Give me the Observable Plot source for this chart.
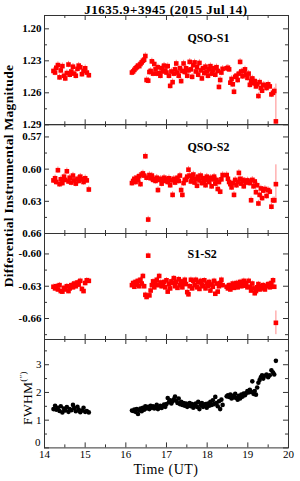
<!DOCTYPE html>
<html><head><meta charset="utf-8">
<script src="https://cdn.jsdelivr.net/npm/d3@7"></script>
<script src="https://cdn.jsdelivr.net/npm/@observablehq/plot@0.6"></script>
<style>
body{margin:0;background:#fff;}
#wrap{position:relative;width:300px;height:481px;overflow:hidden;font-family:"Liberation Serif",serif;color:#000;}
.lbl{position:absolute;white-space:nowrap;}
</style></head><body><div id="wrap"></div>
<script>
// ---- data ----
const time = [
 14.22,14.26,14.29,14.33,14.37,14.40,14.44,14.48,14.51,14.55,14.59,14.62,14.66,14.70,14.73,14.77,14.81,14.84,14.88,14.92,14.96,15.00,15.04,15.09,
 16.15,16.18,16.21,16.24,16.27,16.30,16.33,16.36,16.39,16.42,16.45,16.48,16.51,16.55,16.58,16.61,16.64,16.67,16.70,16.73,16.76,16.79,16.82,16.85,16.88,16.91,16.94,16.97,
 17.00,17.03,17.06,17.09,17.12,17.15,17.18,17.21,17.24,17.27,17.30,17.33,17.36,17.39,17.42,17.45,17.48,17.51,17.54,17.57,17.60,17.63,17.66,17.69,17.72,17.75,17.78,17.81,17.84,17.87,17.90,17.93,17.96,17.99,
 18.02,18.05,18.08,18.11,18.14,18.17,18.20,18.23,18.26,18.29,18.32,18.35,18.38,
 18.48,18.51,18.54,18.57,18.60,18.63,18.66,18.69,18.72,18.75,18.78,18.81,18.84,18.87,18.90,18.93,18.96,18.99,
 19.02,19.05,19.08,19.11,19.14,19.17,19.20,19.23,19.26,19.29,19.32,19.35,19.38,19.42,19.46,19.50,19.54,19.58,19.62,19.65,19.69
];
const qsoS1 = [
 1.2395,1.2410,1.2365,1.2340,1.2455,1.2390,1.2350,1.2440,1.2465,1.2415,1.2335,1.2430,1.2400,1.2355,1.2420,1.2440,1.2375,1.2345,1.2360,1.2425,1.2395,1.2370,1.2410,1.2435,
 1.2410,1.2400,1.2385,1.2370,1.2360,1.2345,1.2350,1.2330,1.2315,1.2300,1.2290,1.2255,1.2480,1.2486,1.2405,1.2395,1.2305,1.2420,1.2330,1.2380,1.2420,1.2360,1.2415,1.2440,1.2370,1.2400,1.2345,1.2390,
 1.2410,1.2350,1.2440,1.2535,1.2400,1.2500,1.2420,1.2380,1.2325,1.2410,1.2440,1.2370,1.2490,1.2395,1.2325,1.2405,1.2370,1.2440,1.2390,1.2310,1.2380,1.2450,1.2340,1.2315,1.2400,1.2360,1.2430,1.2320,1.2390,1.2465,1.2370,1.2415,1.2355,1.2400,
 1.2440,1.2380,1.2350,1.2420,1.2390,1.2370,1.2430,1.2360,1.2395,1.2545,1.2480,1.2410,1.2375,
 1.2370,1.2365,1.2380,1.2505,1.2470,1.2520,1.2590,1.2450,1.2440,1.2480,1.2420,1.2310,1.2400,1.2445,1.2395,1.2380,1.2430,1.2460,
 1.2420,1.2525,1.2490,1.2465,1.2510,1.2490,1.2540,1.2520,1.2630,1.2500,1.2555,1.2580,1.2525,1.2530,1.2555,1.2520,1.2540,1.2615,1.2600,1.2583,1.2868
];
const qsoS2 = [
 0.6105,0.6085,0.6120,0.6010,0.6140,0.6095,0.6130,0.6070,0.6100,0.6020,0.6115,0.6080,0.6125,0.6060,0.6105,0.6135,0.6090,0.6110,0.6070,0.6095,0.6120,0.6085,0.6105,0.6190,
 0.6130,0.6110,0.6090,0.6120,0.6080,0.6100,0.6065,0.6140,0.6050,0.6040,0.6060,0.5880,0.6080,0.6470,0.6055,0.6085,0.6060,0.6100,0.6095,0.6110,0.6080,0.6195,0.6100,0.6090,0.6135,0.6100,0.6080,0.6110,
 0.6095,0.6120,0.6085,0.6150,0.6105,0.6240,0.6090,0.6125,0.6100,0.6080,0.6110,0.6060,0.6195,0.6240,0.6130,0.6100,0.6100,0.6070,0.6005,0.6060,0.6115,0.6085,0.6050,0.6125,0.6090,0.6155,0.6070,0.6105,0.6060,0.6130,0.6085,0.6110,0.6150,0.6070,
 0.6100,0.6120,0.6080,0.6160,0.6095,0.6070,0.6135,0.6100,0.6185,0.6120,0.6210,0.6095,0.6055,
 0.6055,0.6090,0.6120,0.6140,0.6170,0.6130,0.6240,0.6100,0.6150,0.6120,0.6035,0.6090,0.6135,0.6100,0.6160,0.6110,0.6125,0.6105,
 0.6115,0.6130,0.6290,0.6100,0.6160,0.6115,0.6215,0.6150,0.6320,0.6240,0.6180,0.6270,0.6200,0.6185,0.6250,0.6195,0.6210,0.6350,0.6290,0.6290,0.6140
];
const s1s2 = [
 -0.6305,-0.6320,-0.6300,-0.6330,-0.6290,-0.6345,-0.6350,-0.6315,-0.6330,-0.6300,-0.6345,-0.6320,-0.6290,-0.6310,-0.6275,-0.6300,-0.6265,-0.6285,-0.6250,-0.6325,-0.6345,-0.6270,-0.6245,-0.6250,
 -0.6290,-0.6270,-0.6305,-0.6260,-0.6285,-0.6250,-0.6300,-0.6240,-0.6275,-0.6205,-0.6300,-0.6380,-0.6400,-0.6016,-0.6385,-0.6340,-0.6290,-0.6255,-0.6310,-0.6270,-0.6240,-0.6290,-0.6205,-0.6265,-0.6300,-0.6280,-0.6260,-0.6310,
 -0.6245,-0.6350,-0.6280,-0.6320,-0.6255,-0.6270,-0.6225,-0.6300,-0.6260,-0.6315,-0.6235,-0.6290,-0.6255,-0.6310,-0.6270,-0.6240,-0.6280,-0.6355,-0.6375,-0.6300,-0.6240,-0.6320,-0.6250,-0.6290,-0.6240,-0.6310,-0.6265,-0.6325,-0.6250,-0.6285,-0.6300,-0.6245,-0.6320,-0.6275,
 -0.6295,-0.6260,-0.6340,-0.6285,-0.6305,-0.6250,-0.6370,-0.6275,-0.6350,-0.6300,-0.6270,-0.6240,-0.6290,
 -0.6305,-0.6320,-0.6290,-0.6330,-0.6300,-0.6275,-0.6315,-0.6295,-0.6270,-0.6310,-0.6285,-0.6260,-0.6300,-0.6280,-0.6250,-0.6295,-0.6270,-0.6310,
 -0.6250,-0.6305,-0.6340,-0.6275,-0.6320,-0.6365,-0.6345,-0.6310,-0.6280,-0.6330,-0.6300,-0.6320,-0.6290,-0.6330,-0.6300,-0.6280,-0.6310,-0.6270,-0.6245,-0.6305,-0.6640
];
const fwhm = [
 1.40,1.52,1.38,1.45,1.33,1.50,1.28,1.42,1.35,1.47,1.30,1.40,1.36,1.55,1.44,1.32,1.48,1.38,1.29,1.35,1.45,1.30,1.33,1.28,
 1.35,1.33,1.38,1.30,1.40,1.22,1.36,1.42,1.32,1.45,1.38,1.50,1.42,1.48,1.40,1.52,1.45,1.50,1.42,1.48,1.55,1.40,1.46,1.52,1.44,1.50,1.56,1.48,
 1.58,1.80,1.65,1.72,1.60,1.68,1.75,1.85,1.70,1.62,1.78,1.58,1.66,1.55,1.62,1.52,1.60,1.48,1.56,1.62,1.50,1.58,1.45,1.54,1.60,1.48,1.66,1.40,1.55,1.62,1.48,1.52,1.58,1.45,
 1.60,1.52,1.66,1.55,1.72,1.58,1.84,1.62,1.50,1.68,1.40,1.74,1.55,
 1.86,1.90,1.84,1.92,1.78,1.88,1.82,1.95,1.80,1.74,1.88,1.78,1.92,1.85,1.96,1.90,1.98,2.05,
 2.00,2.10,2.02,2.40,1.95,2.05,1.92,2.18,2.35,2.45,2.55,2.62,2.50,2.60,2.65,2.55,2.62,2.80,2.72,2.65,3.14
];
// typical photometric error and the larger error of the final frame
const errS1 = 0.003, errS1Last = 0.035;
const errS2 = 0.003, errS2Last = 0.018;
const errS1S2 = 0.0025, errS1S2Last = 0.011;

const title = "J1635.9+3945 (2015 Jul 14)";
const panelNames = ["QSO-S1", "QSO-S2", "S1-S2"];
const xMajor = [14, 15, 16, 17, 18, 19, 20];
const xMinor = [14.5, 15.5, 16.5, 17.5, 18.5, 19.5];
const y1Major = [1.20, 1.23, 1.26, 1.29], y1Minor = [1.215, 1.245, 1.275];
const y2Major = [0.57, 0.60, 0.63, 0.66], y2Minor = [0.585, 0.615, 0.645];
const y3Major = [-0.60, -0.63, -0.66], y3Minor = [-0.615, -0.645, -0.675];
const y4Major = [1, 2, 3], y4Zero = [0], y4Minor = [0.5, 1.5, 2.5, 3.5];

// ---- layout ----
const wrap = document.getElementById("wrap");
const W = 300, FL = 44, FR = 288, FW = FR - FL;
const FONT = '"Liberation Serif", serif';

function panel(cfg) {
  const mt = 3, mb = cfg.mb;
  const H = cfg.bottom - cfg.top;
  const last = time.length - 1;
  const data = time.map((t, i) => ({t, v: cfg.values[i], e: cfg.err == null ? 0 : (i === last ? cfg.errLast : cfg.err)}));
  const marks = [];
  if (cfg.err != null) {
    marks.push(Plot.ruleX(data, {x: "t", y1: d => d.v - d.e, y2: d => d.v + d.e, stroke: "#ff8a8a", strokeWidth: 1, clip: true}));
    marks.push(Plot.dot(data, {x: "t", y: "v", symbol: "square", r: 2.6, fill: "#ff0000", stroke: "none"}));
  } else {
    marks.push(Plot.dot(data, {x: "t", y: "v", r: 2.3, fill: "#000", stroke: "none"}));
  }
  const tk = "#333";
  const fw = cfg.weight;
  // inward ticks on all sides
  marks.push(Plot.tickY(cfg.yMajor.concat(cfg.yExtra || []), {y: d => d, insetRight: FW - 5, stroke: tk}));
  marks.push(Plot.tickY(cfg.yMajor.concat(cfg.yExtra || []), {y: d => d, insetLeft: FW - 5, stroke: tk}));
  marks.push(Plot.tickY(cfg.yMinor, {y: d => d, insetRight: FW - 3, stroke: tk}));
  marks.push(Plot.tickY(cfg.yMinor, {y: d => d, insetLeft: FW - 3, stroke: tk}));
  marks.push(Plot.tickX(xMajor, {x: d => d, insetBottom: H - 5, stroke: tk}));
  marks.push(Plot.tickX(xMajor, {x: d => d, insetTop: H - 5, stroke: tk}));
  marks.push(Plot.tickX(xMinor, {x: d => d, insetBottom: H - 3, stroke: tk}));
  marks.push(Plot.tickX(xMinor, {x: d => d, insetTop: H - 3, stroke: tk}));
  marks.push(Plot.axisY(cfg.yMajor, {tickSize: 0, tickPadding: 3, label: null, tickFormat: cfg.fmt, fontSize: 11, fontWeight: fw, fill: "#000"}));
  if (cfg.yExtra) marks.push(Plot.axisY(cfg.yExtra, {tickSize: 0, tickPadding: 4, dy: -5, label: null, tickFormat: cfg.fmt, fontSize: 11, fontWeight: fw, fill: "#000"}));
  if (cfg.xLabels) marks.push(Plot.axisX(xMajor, {tickSize: 0, tickPadding: 2, label: null, tickFormat: d => String(d), fontSize: 11, fontWeight: fw, fill: "#000"}));
  if (cfg.name) marks.push(Plot.text([cfg.name], {text: d => d, frameAnchor: "top-left", dx: 143, dy: cfg.nameDy, textAnchor: "start", fontSize: 12, fontWeight: "bold", fill: "#000"}));
  marks.push(Plot.frame({stroke: "#333", strokeWidth: 1}));
  const p = Plot.plot({
    width: W, height: H + mt + mb,
    marginLeft: FL, marginRight: W - FR, marginTop: mt, marginBottom: mb,
    style: {fontFamily: FONT, background: "transparent", overflow: "visible"},
    x: {domain: [14, 20], axis: null},
    y: {domain: cfg.domain, reverse: cfg.reverse, axis: null},
    marks
  });
  p.style.position = "absolute";
  p.style.left = "0px";
  p.style.top = (cfg.top - mt) + "px";
  wrap.appendChild(p);
}

const f2 = d => d.toFixed(2);
panel({top: 15, bottom: 124.3, mb: 3, values: qsoS1, err: errS1, errLast: errS1Last, domain: [1.1875, 1.29], reverse: true, yMajor: y1Major, yMinor: y1Minor, fmt: f2, weight: "bold", name: panelNames[0], nameDy: 18});
panel({top: 124.3, bottom: 233.3, mb: 3, values: qsoS2, err: errS2, errLast: errS2Last, domain: [0.5584, 0.66], reverse: true, yMajor: y2Major, yMinor: y2Minor, fmt: f2, weight: "bold", name: panelNames[1], nameDy: 18});
panel({top: 233.3, bottom: 339.3, mb: 3, values: s1s2, err: errS1S2, errLast: errS1S2Last, domain: [-0.6795, -0.581], reverse: false, yMajor: y3Major, yMinor: y3Minor, fmt: f2, weight: "bold", name: panelNames[2], nameDy: 16});
panel({top: 339.3, bottom: 447.7, mb: 30, values: fwhm, err: null, domain: [0, 3.91], reverse: false, yMajor: y4Major, yExtra: y4Zero, yMinor: y4Minor, fmt: d => String(d), weight: "normal", xLabels: true});

function label(html, css) {
  const d = document.createElement("div");
  d.className = "lbl";
  d.innerHTML = html;
  Object.assign(d.style, css);
  wrap.appendChild(d);
  return d;
}
label(title, {left: "166px", top: "2px", transform: "translateX(-50%)", fontSize: "13px", fontWeight: "bold", letterSpacing: "0.5px"});
label("Differential Instrumental Magnitude", {left: "9px", top: "176px", transform: "translate(-50%,-50%) rotate(-90deg)", fontSize: "13.5px", fontWeight: "bold", letterSpacing: "0.3px"});
label('FWHM<sup style="font-size:9px;vertical-align:6px">(″)</sup>', {left: "27px", top: "398px", transform: "translate(-50%,-50%) rotate(-90deg)", fontSize: "13.5px", fontWeight: "normal", letterSpacing: "0.3px"});
label("Time (UT)", {left: "166px", top: "462.5px", lineHeight: "14px", transform: "translateX(-50%)", fontSize: "14px", fontWeight: "normal", letterSpacing: "0.5px"});
</script></body></html>
